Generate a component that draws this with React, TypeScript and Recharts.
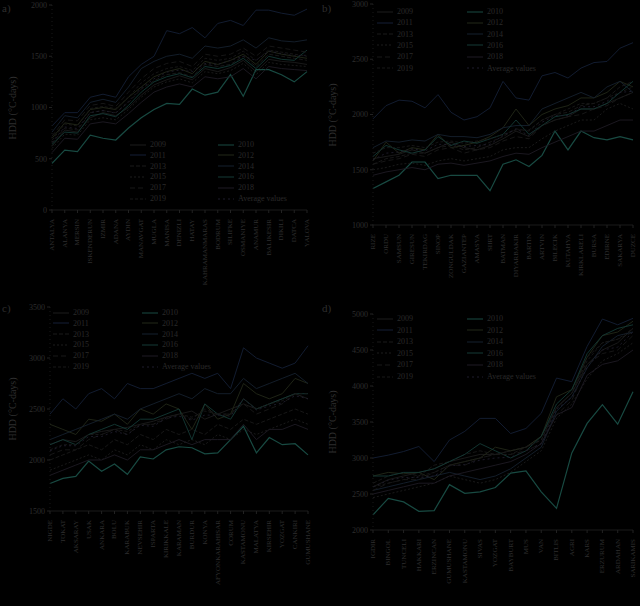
import React from "react";
import { LineChart, Line, XAxis, YAxis } from "recharts";

const years = ["2009", "2010", "2011", "2012", "2013", "2014", "2015", "2016", "2017", "2018", "2019", "Average values"];

const citiesA = ["ANTALYA", "ALANYA", "MERSIN", "ISKENDERUN", "IZMIR", "ADANA", "AYDIN", "MANAVGAT", "MUGLA", "MANISA", "DENIZLI", "HATAY", "KAHRAMANMARAS", "BODRUM", "SILIFKE", "OSMANIYE", "ANAMUR", "BALIKESIR", "DIKILI", "DATCA", "YALOVA"];
const citiesB = ["RIZE", "ORDU", "SAMSUN", "GIRESUN", "TEKIRDAG", "SINOP", "ZONGULDAK", "GAZIANTEP", "AMASYA", "SIIRT", "BATMAN", "DIYARBAKIR", "BARTIN", "ARTVIN", "BILECIK", "KUTAHYA", "KIRKLARELI", "BURSA", "EDIRNE", "SAKARYA", "DUZCE"];
const citiesC = ["NIGDE", "TOKAT", "AKSARAY", "USAK", "ANKARA", "BOLU", "KARABUK", "NEVSEHIR", "ISPARTA", "KIRIKKALE", "KARAMAN", "BURDUR", "KONYA", "AFYONKARAHISAR", "CORUM", "KASTAMONU", "MALATYA", "KIRSEHIR", "YOZGAT", "CANKIRI", "GUMUSHANE"];
const citiesD = ["IGDIR", "BINGOL", "TUNCELI", "HAKKARI", "ERZINCAN", "GUMUSHANE", "KASTAMONU", "SIVAS", "YOZGAT", "BAYBURT", "MUS", "VAN", "BITLIS", "AGRI", "KARS", "ERZURUM", "ARDAHAN", "SARIKAMIS"];

const hddA = [
  [620, 780, 760, 900, 950, 920, 1000, 1120, 1220, 1270, 1310, 1270, 1380, 1350, 1390, 1460, 1350, 1470, 1450, 1440, 1420],
  [455, 585, 570, 730, 700, 683, 800, 900, 980, 1040, 1030, 1180, 1120, 1150, 1320, 1110, 1370, 1370, 1320, 1250, 1350],
  [820, 950, 950, 1100, 1130, 1100, 1300, 1420, 1500, 1750, 1720, 1780, 1680, 1820, 1850, 1800, 1950, 1950, 1920, 1900, 1960],
  [700, 850, 830, 980, 1000, 980, 1100, 1200, 1300, 1350, 1380, 1330, 1450, 1420, 1460, 1520, 1420, 1550, 1520, 1500, 1480],
  [650, 800, 780, 950, 970, 950, 1050, 1180, 1260, 1320, 1340, 1300, 1420, 1400, 1420, 1500, 1400, 1520, 1500, 1480, 1460],
  [760, 920, 900, 1050, 1080, 1050, 1200, 1380, 1450, 1500, 1520, 1480, 1600, 1580, 1600, 1660, 1580, 1680, 1650, 1640, 1660],
  [600, 740, 730, 880, 900, 880, 980, 1100, 1200, 1250, 1280, 1240, 1350, 1330, 1360, 1430, 1320, 1440, 1420, 1410, 1400],
  [640, 760, 750, 920, 940, 910, 1020, 1150, 1250, 1300, 1330, 1290, 1400, 1380, 1410, 1480, 1380, 1500, 1470, 1460, 1560],
  [720, 880, 870, 1020, 1040, 1010, 1150, 1280, 1380, 1430, 1450, 1400, 1520, 1500, 1520, 1580, 1500, 1600, 1580, 1560, 1540],
  [560, 700, 690, 840, 860, 840, 940, 1050, 1150, 1200, 1230, 1200, 1300, 1280, 1300, 1380, 1280, 1400, 1380, 1370, 1360],
  [680, 840, 820, 990, 1010, 990, 1100, 1240, 1330, 1380, 1400, 1360, 1480, 1460, 1480, 1550, 1460, 1560, 1540, 1520, 1500],
  [660, 810, 795, 950, 970, 945, 1060, 1190, 1280, 1345, 1365, 1350, 1430, 1420, 1460, 1500, 1460, 1550, 1525, 1505, 1510],
];

const hddB = [
  [1600, 1620, 1640, 1680, 1650, 1700, 1750, 1700, 1680, 1720, 1780, 1850, 1800, 1900, 1950, 1980, 2050, 2050, 2100, 2150, 2200],
  [1330, 1390, 1450, 1570, 1570, 1420, 1450, 1450, 1450, 1310, 1550, 1590, 1530, 1630, 1850, 1680, 1850, 1790, 1770, 1800, 1770],
  [1960, 2080, 2130, 2120, 2060, 2180, 2020, 1950, 1980, 2060, 2300, 2150, 2130, 2350, 2380, 2330, 2420, 2470, 2480, 2600, 2650],
  [1580, 1750, 1650, 1700, 1680, 1820, 1700, 1720, 1750, 1800, 1880, 2050, 1900, 2000, 2050, 2080, 2150, 2150, 2200, 2300, 2250],
  [1550, 1600, 1620, 1650, 1650, 1700, 1720, 1680, 1700, 1750, 1800, 1870, 1850, 1950, 2000, 2020, 2080, 2100, 2150, 2250, 2300],
  [1700, 1760, 1750, 1770, 1760, 1820, 1800, 1800, 1790, 1820, 1880, 1900, 1900, 2050, 2100, 2150, 2200, 2150, 2250, 2300, 2200],
  [1500, 1520, 1550, 1560, 1540, 1580, 1600, 1580, 1600, 1620, 1680, 1700, 1700, 1780, 1850, 1900, 1950, 1950, 2050, 2100, 2050],
  [1620, 1720, 1680, 1650, 1680, 1800, 1720, 1760, 1740, 1780, 1820, 1950, 1820, 1900, 1980, 2000, 2050, 2050, 2100, 2200, 2300],
  [1550, 1580, 1600, 1640, 1620, 1680, 1700, 1650, 1680, 1700, 1760, 1800, 1780, 1900, 1950, 1980, 2000, 2050, 2080, 2150, 2200],
  [1450, 1480, 1500, 1520, 1500, 1550, 1560, 1540, 1560, 1580, 1620, 1650, 1640, 1700, 1750, 1800, 1850, 1850, 1900, 1950, 1950],
  [1650, 1700, 1700, 1720, 1700, 1750, 1760, 1740, 1760, 1780, 1820, 1860, 1860, 1950, 2000, 2050, 2100, 2100, 2150, 2200, 2250],
  [1590, 1650, 1660, 1690, 1670, 1730, 1730, 1710, 1720, 1730, 1810, 1870, 1810, 1930, 1990, 1990, 2070, 2070, 2120, 2200, 2210],
];

const hddC = [
  [2150, 2200, 2180, 2250, 2280, 2300, 2320, 2350, 2380, 2420, 2450, 2480, 2400, 2450, 2500, 2550, 2500, 2550, 2600, 2650, 2600],
  [1770, 1820, 1840, 1990, 1890, 1960, 1860, 2030, 2010, 2100, 2130, 2120, 2060, 2070, 2200, 2330, 2070, 2220, 2150, 2160, 2050],
  [2450, 2600, 2500, 2650, 2700, 2600, 2750, 2700, 2700, 2750, 2800, 2850, 2800, 2850, 2700, 3100, 3000, 2950, 2900, 2950, 3120],
  [2350, 2300, 2250, 2400, 2380, 2450, 2350, 2500, 2450, 2550, 2500, 2300, 2550, 2400, 2450, 2750, 2650, 2600, 2650, 2800, 2750],
  [2000, 2050, 2100, 2150, 2100, 2200, 2150, 2250, 2200, 2300, 2250, 2300, 2250, 2350, 2300, 2400, 2350, 2400, 2450, 2500, 2450],
  [2200, 2250, 2300, 2350, 2400, 2450, 2400, 2500, 2550, 2600, 2650, 2600, 2700, 2650, 2650, 2800, 2700, 2750, 2800, 2850, 2750],
  [1900, 1950, 2000, 2050, 2000, 2100, 2050, 2150, 2100, 2200, 2150, 2200, 2150, 2250, 2200, 2300, 2250, 2300, 2350, 2400, 2350],
  [2150, 2200, 2150, 2250, 2300, 2350, 2300, 2400, 2400, 2450, 2500, 2200, 2550, 2450, 2400, 2600, 2500, 2550, 2600, 2650, 2650],
  [2050, 2100, 2100, 2200, 2250, 2300, 2250, 2350, 2350, 2400, 2450, 2400, 2500, 2450, 2450, 2550, 2450, 2500, 2550, 2650, 2600],
  [1850, 1900, 1950, 2000, 2000, 2050, 2000, 2100, 2100, 2150, 2200, 2150, 2200, 2200, 2200, 2350, 2200, 2300, 2300, 2350, 2300],
  [2100, 2150, 2150, 2250, 2250, 2300, 2280, 2350, 2350, 2420, 2450, 2420, 2480, 2450, 2450, 2600, 2500, 2550, 2580, 2650, 2650],
  [2090, 2140, 2140, 2230, 2230, 2280, 2250, 2340, 2330, 2410, 2430, 2390, 2440, 2440, 2430, 2600, 2490, 2530, 2560, 2630, 2600],
];

const hddD = [
  [2600, 2700, 2750, 2800, 2850, 2950, 3000, 3050, 3050, 3100, 3150, 3300, 3700, 3900, 4300, 4500, 4600, 4800],
  [2210, 2440, 2390, 2260, 2270, 2630, 2510, 2530, 2590, 2790, 2820, 2530, 2300, 3070, 3480, 3740, 3470, 3920],
  [3000, 3040, 3090, 3160, 2950, 3250, 3370, 3550, 3550, 3340, 3410, 3620, 4110, 4060, 4550, 4930, 4850, 4940],
  [2750, 2800, 2780, 2800, 2700, 2900, 2950, 3000, 3150, 3100, 3150, 3300, 3850, 3950, 4400, 4700, 4750, 4900],
  [2650, 2750, 2800, 2750, 2900, 2950, 3050, 3100, 3050, 3050, 3150, 3250, 3700, 3900, 4400, 4600, 4650, 4750],
  [2550, 2600, 2650, 2700, 2750, 2800, 2750, 2700, 2750, 2850, 3000, 3150, 3650, 3850, 4250, 4550, 4700, 4750],
  [2450, 2500, 2550, 2600, 2650, 2750, 2700, 2650, 2700, 2800, 2950, 3100, 3550, 3750, 4100, 4350, 4450, 4600],
  [2750, 2750, 2800, 2800, 2850, 2950, 3050, 3200, 3100, 3000, 3100, 3300, 3750, 3950, 4450, 4700, 4800, 4850],
  [2550, 2650, 2700, 2700, 2800, 2900, 2900, 3000, 3050, 3050, 3100, 3200, 3600, 3800, 4300, 4450, 4500, 4700],
  [2500, 2550, 2600, 2650, 2650, 2750, 2800, 2850, 2900, 2950, 3050, 3200, 3600, 3700, 4150, 4300, 4350, 4500],
  [2600, 2650, 2700, 2750, 2800, 2900, 2950, 3000, 3050, 3100, 3150, 3250, 3700, 3900, 4350, 4600, 4650, 4800],
  [2600, 2690, 2730, 2730, 2750, 2890, 2910, 2970, 3000, 3010, 3100, 3200, 3680, 3840, 4260, 4500, 4540, 4750],
];

const ticksA = [0, 500, 1000, 1500, 2000];
const ticksB = [1000, 1500, 2000, 2500, 3000];
const ticksC = [1500, 2000, 2500, 3000, 3500];
const ticksD = [2000, 2500, 3000, 3500, 4000, 4500, 5000];

const colors = ["#1c1c1c", "#184a42", "#141f36", "#222818", "#1a1a1a", "#15202e", "#1d1d1d", "#143a36", "#191919", "#1e1b24", "#181818", "#1f1d2c"];
const dashes = ["", "", "", "", "4 2", "", "2 2", "", "5 3", "", "3 2", "2 3"];

const serif = "'Liberation Serif', 'DejaVu Serif', serif";
const txt = "#2e2e2e";

function Panel({ tag, cities, hdd, ticks, box, plot, legend }) {
  const data = cities.map((c, i) => {
    const row = { city: c };
    years.forEach((y, k) => (row[y] = hdd[k][i]));
    return row;
  });
  const dom = [ticks[0], ticks[ticks.length - 1]];
  return (
    <div style={{ position: "absolute", left: box.x, top: box.y, width: box.w, height: box.h }}>
      <LineChart
        width={box.w}
        height={box.h}
        data={data}
        margin={{ top: plot.top, right: plot.right, left: 0, bottom: 0 }}
      >
        <XAxis
          dataKey="city"
          interval={0}
          height={box.h - plot.top - plot.h}
          axisLine={{ stroke: "#1a1a1a" }}
          tickLine={{ stroke: "#222" }}
          tickSize={3}
          tick={{ fontSize: 7, fill: txt, fontFamily: serif, angle: -90, textAnchor: "end", dx: -3, dy: 4 }}
        />
        <YAxis
          domain={dom}
          ticks={ticks}
          width={plot.left}
          axisLine={{ stroke: "#181818", strokeDasharray: "1 3" }}
          tickLine={{ stroke: "#222" }}
          tickSize={3}
          tick={{ fontSize: 8, fill: txt, fontFamily: serif }}
        />
        {years.map((y, k) => (
          <Line
            key={y}
            dataKey={y}
            stroke={colors[k]}
            strokeWidth={k === 1 ? 1.2 : 0.9}
            strokeDasharray={dashes[k]}
            dot={false}
            isAnimationActive={false}
          />
        ))}
      </LineChart>
      <div style={{ position: "absolute", left: 2, top: 2, fontSize: 11, color: txt, fontFamily: serif }}>{tag}</div>
      <div
        style={{
          position: "absolute",
          left: 12,
          top: plot.top + plot.h / 2,
          transform: "translate(-50%, -50%) rotate(-90deg)",
          fontSize: 10,
          color: txt,
          fontFamily: serif,
          whiteSpace: "nowrap",
        }}
      >
        HDD (°C-days)
      </div>
      {years.map((y, k) => {
        const col = k % 2;
        const row = Math.floor(k / 2);
        return (
          <div
            key={y}
            style={{
              position: "absolute",
              left: legend.x + col * legend.dx,
              top: legend.y + row * legend.dy,
              display: "flex",
              alignItems: "center",
              fontSize: 8,
              color: "#2a2a2a",
              fontFamily: serif,
              whiteSpace: "nowrap",
              lineHeight: "9px",
            }}
          >
            <svg width={16} height={6} style={{ marginRight: 4 }}>
              <line x1={0} y1={3} x2={16} y2={3} stroke={colors[k]} strokeWidth={1} strokeDasharray={dashes[k]} />
            </svg>
            {y}
          </div>
        );
      })}
    </div>
  );
}

export default function App() {
  return (
    <div style={{ position: "fixed", left: 0, top: 0, width: 640, height: 606, background: "#000", overflow: "hidden" }}>
      <Panel
        tag="a)"
        cities={citiesA}
        hdd={hddA}
        ticks={ticksA}
        box={{ x: 0, y: 0, w: 320, h: 300 }}
        plot={{ left: 52, right: 13, top: 5, h: 205 }}
        legend={{ x: 130, y: 140, dx: 88, dy: 10.8 }}
      />
      <Panel
        tag="b)"
        cities={citiesB}
        hdd={hddB}
        ticks={ticksB}
        box={{ x: 320, y: 0, w: 320, h: 300 }}
        plot={{ left: 53, right: 7, top: 4, h: 221 }}
        legend={{ x: 57, y: 7, dx: 90, dy: 11.3 }}
      />
      <Panel
        tag="c)"
        cities={citiesC}
        hdd={hddC}
        ticks={ticksC}
        box={{ x: 0, y: 300, w: 320, h: 306 }}
        plot={{ left: 50, right: 12, top: 7, h: 204 }}
        legend={{ x: 53, y: 8, dx: 89, dy: 10.8 }}
      />
      <Panel
        tag="d)"
        cities={citiesD}
        hdd={hddD}
        ticks={ticksD}
        box={{ x: 320, y: 300, w: 320, h: 306 }}
        plot={{ left: 53, right: 7, top: 14, h: 216 }}
        legend={{ x: 57, y: 14, dx: 90, dy: 11.6 }}
      />
    </div>
  );
}
